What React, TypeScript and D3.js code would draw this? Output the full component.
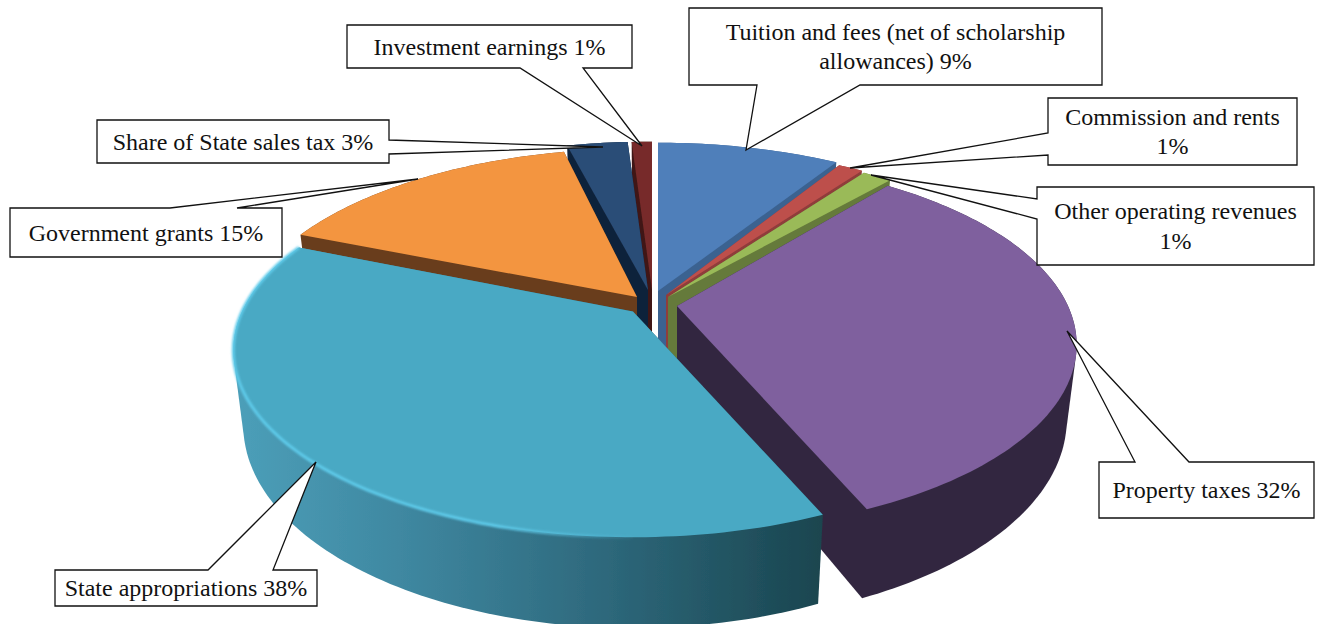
import React from "react";
import * as d3 from "d3";

// ---------- data ----------
const categories = [
  "Tuition and fees",
  "Commission and rents",
  "Other operating revenues",
  "Property taxes",
  "State appropriations",
  "Government grants",
  "Share of State sales tax",
  "Investment earnings",
];
const shares = [9.0, 0.95, 1.45, 32.17, 37.73, 14.9, 2.8, 1.0];
const labelLines = [
  ["Tuition and fees (net of scholarship", "allowances) 9%"],
  ["Commission and rents", "1%"],
  ["Other operating revenues", "1%"],
  ["Property taxes 32%"],
  ["State appropriations 38%"],
  ["Government grants 15%"],
  ["Share of State sales tax 3%"],
  ["Investment earnings 1%"],
];

// ---------- styling and layout ----------
const topColors = ["#4f7fba", "#bd4f4c", "#9aba58", "#7f619e", "#4aa9c4", "#f39541", "#2a4d77", "#772c2a"];
const wallColors = ["#3b6290", "#8f3c3a", "#657a3a", "#332840", "url(#tealWall)", "#693e1c", "#11233a", "#3f1716"];
// where each exploded slice's tip lands on the page
const tips = [[658, 291], [666, 295], [668, 297], [677, 306], [633, 311.5], [637, 297], [648, 290], [652, 290]];
// small per-slice corrections of the drawn edges, in degrees [start, end]
const edgeTrim = [[0, 0], [-1, 0], [0, 0], [-2.3, 0], [0, 0], [-0.7, 0.7], [-0.7, 0], [0, 0]];
const drawOrder = [7, 6, 5, 0, 1, 2, 3, 4];
// box [x0, y0, x1, y1], pointer target [x, y], pointer base [x, y, x, y]
const boxes = [
  [689, 8, 1102, 85], [1048, 98, 1297, 165], [1037, 187, 1314, 265], [1099, 462, 1314, 518],
  [55, 570, 317, 606], [10, 208, 282, 257], [97, 120, 389, 163], [347, 25, 632, 68],
];
const targets = [[746, 150], [850, 168], [871, 175], [1067, 331], [316, 462], [418, 179], [603, 147], [642, 146]];
const bases = [
  [757, 85, 860, 85], [1048, 155, 1048, 133], [1037, 219, 1037, 199], [1135, 462, 1189, 462],
  [208, 570, 273, 570], [170, 208, 237, 208], [389, 154, 389, 140], [520, 68, 583, 68],
];

const RX = 391, RY = 179, PERSP = 0.207, DEPTH = 72, SHRINK = 0.975;
const DEG = Math.PI / 180;

function rimPoint(tip: number[], theta: number, level: number): [number, number] {
  const u = Math.sin(theta), v = -Math.cos(theta);
  const s = 1 / (1 - PERSP * v);
  const x = RX * u * s * (level ? SHRINK : 1);
  return [tip[0] + x, tip[1] + RY * v * s + level * DEPTH * s];
}
function rim(tip: number[], a0: number, a1: number, level: number) {
  const n = Math.max(2, Math.ceil(Math.abs(a1 - a0) / 0.02));
  return d3.range(n + 1).map((i) => rimPoint(tip, a0 + ((a1 - a0) * i) / n, level));
}
const line = d3.line<[number, number]>();

function calloutPath(b: number[], t: number[], p: number[]) {
  const [x0, y0, x1, y1] = b;
  const tp: [number, number] = [t[0], t[1]];
  let pts: [number, number][];
  if (p[1] === y0) pts = [[x0, y0], [p[0], y0], tp, [p[2], y0], [x1, y0], [x1, y1], [x0, y1]];
  else if (p[1] === y1) pts = [[x0, y0], [x1, y0], [x1, y1], [p[2], y1], tp, [p[0], y1], [x0, y1]];
  else if (p[0] === x1) pts = [[x0, y0], [x1, y0], [x1, p[3]], tp, [x1, p[1]], [x1, y1], [x0, y1]];
  else pts = [[x0, y0], [x1, y0], [x1, y1], [x0, y1], [x0, p[1]], tp, [x0, p[3]]];
  return line(pts) + "Z";
}

export default function App() {
  const arcs = d3.pie<number>().sort(null).value((d) => d)(shares);
  const angle0 = (i: number) => arcs[i].startAngle + edgeTrim[i][0] * DEG;
  const angle1 = (i: number) => arcs[i].endAngle + edgeTrim[i][1] * DEG;
  const tealHighlight = rim(tips[4], Math.PI, angle1(4), 0);
  return (
    <svg width={1317} height={624} style={{ position: "absolute", left: 0, top: 0, display: "block" }}>
      <defs>
        <linearGradient id="tealWall" gradientUnits="userSpaceOnUse" x1={235} x2={822} y1={0} y2={0}>
          <stop offset="0" stopColor="#4c9fb9" />
          <stop offset="0.28" stopColor="#3f88a1" />
          <stop offset="0.6" stopColor="#2f6b7f" />
          <stop offset="1" stopColor="#1a454f" />
        </linearGradient>
        <linearGradient id="tealRim" gradientUnits="userSpaceOnUse" x1={233} x2={640} y1={0} y2={0}>
          <stop offset="0" stopColor="#5fcbea" />
          <stop offset="0.65" stopColor="#5fcbea" />
          <stop offset="1" stopColor="#5fcbea" stopOpacity="0" />
        </linearGradient>
        <filter id="soft" x="-5%" y="-5%" width="110%" height="110%">
          <feGaussianBlur stdDeviation="0.6" />
        </filter>
        <filter id="softer" x="-5%" y="-5%" width="110%" height="110%">
          <feGaussianBlur stdDeviation="0.8" />
        </filter>
      </defs>
      <rect width={1317} height={624} fill="#fff" />
      <g filter="url(#soft)">
        {drawOrder.map((i) => {
          const tip = tips[i];
          const top = rim(tip, angle0(i), angle1(i), 0);
          const bottom = rim(tip, angle0(i), angle1(i), 1);
          const tipTop: [number, number] = [tip[0], tip[1]];
          const tipBottom: [number, number] = [tip[0], tip[1] + DEPTH];
          const solid = d3.polygonHull([tipTop, tipBottom, ...top, ...bottom]) as [number, number][];
          return (
            <g key={categories[i]}>
              <path d={line(solid) + "Z"} fill={wallColors[i]} />
              <path d={line([tipTop, ...top]) + "Z"} fill={topColors[i]} />
            </g>
          );
        })}
        <path d={line(tealHighlight) ?? ""} fill="none" stroke="url(#tealRim)" strokeWidth={3} filter="url(#softer)" />
      </g>
      {boxes.map((b, i) => {
        const lines = labelLines[i];
        const cx = (b[0] + b[2]) / 2;
        const cy = (b[1] + b[3]) / 2;
        return (
          <g key={labelLines[i][0]}>
            <path d={calloutPath(b, targets[i], bases[i])} fill="#fff" stroke="#111" strokeWidth={1.3} strokeLinejoin="miter" />
            {lines.map((t, j) => (
              <text
                key={t}
                x={cx}
                y={cy + (j - (lines.length - 1) / 2) * 29.5 + 8}
                textAnchor="middle"
                fontFamily="'Liberation Serif', serif"
                fontSize={24}
                fill="#111"
              >
                {t}
              </text>
            ))}
          </g>
        );
      })}
    </svg>
  );
}
